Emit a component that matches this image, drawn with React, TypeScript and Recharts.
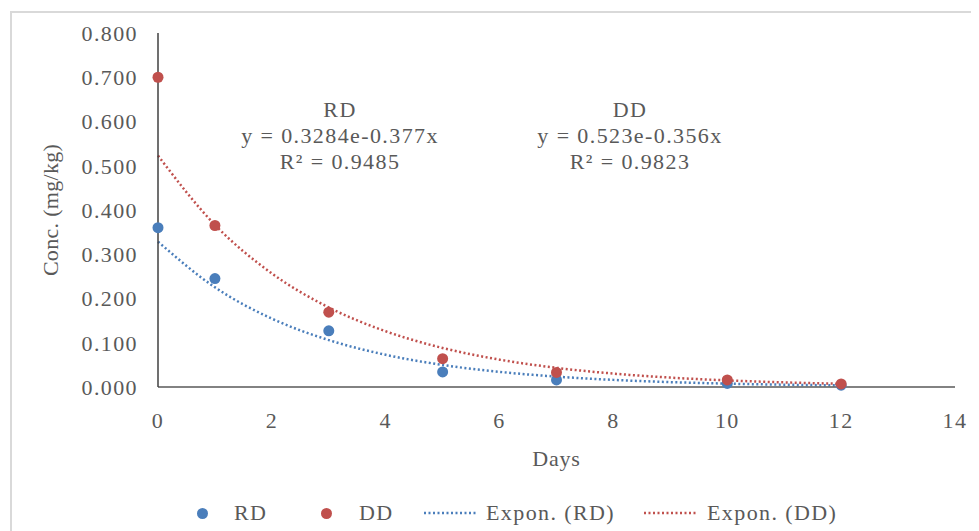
import React from "react";
import { ComposedChart, Scatter, Line, XAxis, YAxis } from "recharts";

const days = [0, 1, 3, 5, 7, 10, 12];
const rdValues = [0.36, 0.245, 0.127, 0.034, 0.016, 0.008, 0.004];
const ddValues = [0.7, 0.365, 0.169, 0.064, 0.033, 0.016, 0.007];

const trendDays = [0, 1, 2, 3, 4, 5, 6, 7, 8, 9, 10, 11, 12];
const rdTrendValues = [0.3284, 0.2253, 0.1545, 0.106, 0.0727, 0.0498, 0.0342, 0.0235, 0.0161, 0.011, 0.0076, 0.0052, 0.0036];
const ddTrendValues = [0.523, 0.3664, 0.2566, 0.1798, 0.1259, 0.0882, 0.0618, 0.0433, 0.0303, 0.0212, 0.0149, 0.0104, 0.0073];

const xTicks = [0, 2, 4, 6, 8, 10, 12, 14];
const yTicks = [0, 0.1, 0.2, 0.3, 0.4, 0.5, 0.6, 0.7, 0.8];

const rdLabel = ["RD", "y = 0.3284e-0.377x", "R² = 0.9485"];
const ddLabel = ["DD", "y = 0.523e-0.356x", "R² = 0.9823"];
const legendItems = ["RD", "DD", "Expon. (RD)", "Expon. (DD)"];

const BLUE = "#4a7ebb";
const RED = "#c0504d";
const TEXT = "#595959";
const FONT = "'Liberation Serif', 'Times New Roman', serif";

const rdData = days.map((x, i) => ({ x, y: rdValues[i] }));
const ddData = days.map((x, i) => ({ x, y: ddValues[i] }));
const rdTrend = trendDays.map((x, i) => ({ x, y: rdTrendValues[i] }));
const ddTrend = trendDays.map((x, i) => ({ x, y: ddTrendValues[i] }));

const tickStyle = { fontSize: 22, fill: TEXT, fontFamily: FONT, letterSpacing: 1.4 };

const dot = (color: string) => (p: any) => <circle cx={p.cx} cy={p.cy} r={5.5} fill={color} />;

const textBase: React.CSSProperties = {
  position: "absolute",
  fontFamily: FONT,
  fontSize: 22,
  letterSpacing: 1.4,
  color: TEXT,
  whiteSpace: "nowrap",
  lineHeight: "26px",
};

function Annotation({ lines, cx, top }: { lines: string[]; cx: number; top: number }) {
  return (
    <div style={{ ...textBase, left: cx - 150, width: 300, top, textAlign: "center" }}>
      {lines.map((l) => (
        <div key={l}>{l}</div>
      ))}
    </div>
  );
}

export default function App() {
  return (
    <div style={{ position: "relative", width: 971, height: 523, background: "#fff", overflow: "hidden" }}>
      <div
        style={{
          position: "absolute",
          left: 2,
          top: 3,
          right: -5,
          bottom: -5,
          borderLeft: "2px solid #d9d9d9",
          borderTop: "2px solid #d9d9d9",
        }}
      />
      <ComposedChart width={971} height={523} margin={{ top: 25, right: 24, left: 30, bottom: 54 }}>
        <XAxis
          type="number"
          dataKey="x"
          domain={[0, 14]}
          ticks={xTicks}
          tickLine={false}
          tickMargin={19}
          axisLine={{ stroke: "#595959", strokeWidth: 1.5 }}
          tick={tickStyle}
          height={90}
          label={{ value: "Days", position: "insideBottom", offset: 11, style: { ...tickStyle, letterSpacing: 0.8, textAnchor: "middle" } }}
        />
        <YAxis
          type="number"
          dataKey="y"
          domain={[0, 0.8]}
          ticks={yTicks}
          tickFormatter={(v: number) => v.toFixed(3)}
          tickLine={false}
          tickMargin={14}
          axisLine={{ stroke: "#404040", strokeWidth: 1.5 }}
          tick={tickStyle}
          width={120}
          label={{ value: "Conc. (mg/kg)", angle: -90, position: "insideLeft", offset: 12, style: { ...tickStyle, letterSpacing: 0.3, textAnchor: "middle" } }}
        />
        <Line data={rdTrend} dataKey="y" type="monotone" stroke={BLUE} strokeWidth={2.5} strokeDasharray="2 2.5" dot={false} activeDot={false} isAnimationActive={false} />
        <Line data={ddTrend} dataKey="y" type="monotone" stroke={RED} strokeWidth={2.5} strokeDasharray="2 2.5" dot={false} activeDot={false} isAnimationActive={false} />
        <Scatter data={rdData} dataKey="y" fill={BLUE} shape={dot(BLUE)} isAnimationActive={false} />
        <Scatter data={ddData} dataKey="y" fill={RED} shape={dot(RED)} isAnimationActive={false} />
      </ComposedChart>
      <Annotation lines={rdLabel} cx={332} top={89} />
      <Annotation lines={ddLabel} cx={622} top={89} />
      <div style={{ position: "absolute", left: 0, top: 492, width: 971, height: 26 }}>
        <svg style={{ position: "absolute", left: 189, top: 8 }} width={11} height={11}>
          <circle cx={5.5} cy={5.5} r={5.5} fill={BLUE} />
        </svg>
        <div style={{ ...textBase, left: 226, top: 0 }}>{legendItems[0]}</div>
        <svg style={{ position: "absolute", left: 313, top: 8 }} width={11} height={11}>
          <circle cx={5.5} cy={5.5} r={5.5} fill={RED} />
        </svg>
        <div style={{ ...textBase, left: 351, top: 0 }}>{legendItems[1]}</div>
        <svg style={{ position: "absolute", left: 416, top: 11 }} width={54} height={4}>
          <line x1={0} y1={2} x2={54} y2={2} stroke={BLUE} strokeWidth={2.5} strokeDasharray="2 2.5" />
        </svg>
        <div style={{ ...textBase, left: 478, top: 0 }}>{legendItems[2]}</div>
        <svg style={{ position: "absolute", left: 636, top: 11 }} width={54} height={4}>
          <line x1={0} y1={2} x2={54} y2={2} stroke={RED} strokeWidth={2.5} strokeDasharray="2 2.5" />
        </svg>
        <div style={{ ...textBase, left: 699, top: 0 }}>{legendItems[3]}</div>
      </div>
    </div>
  );
}
